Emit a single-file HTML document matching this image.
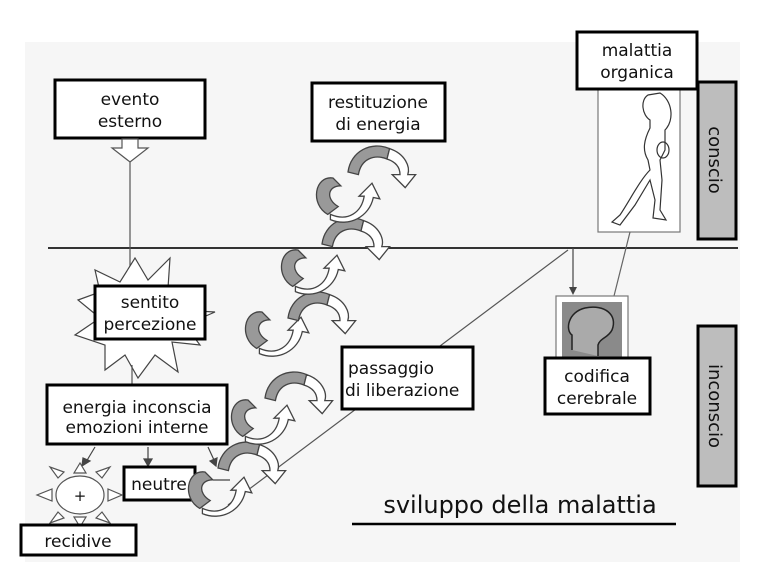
<!DOCTYPE html>
<html><head><meta charset="utf-8"><style>
html,body{margin:0;padding:0;background:#fff}
svg{display:block}
text{font-family:"DejaVu Sans","Liberation Sans",sans-serif;fill:#111}
.b{fill:#fff;stroke:#000;stroke-width:3}
</style></head><body>
<svg width="761" height="572" viewBox="0 0 761 572">
<rect x="25" y="42" width="715" height="520" fill="#f6f6f6"/>
<defs>
<g id="cw">
<path d="M0,0 C-14,-2 -18,20 -4,28 L4,22 C-6,16 -4,6 6,6 Z" fill="#999" stroke="#444" stroke-width="1"/>
<path d="M-2,28 C12,34 22,26 24,14 L20,14 L30,4 L36,16 L31,15 C28,30 12,38 -2,32 Z" fill="#fff" stroke="#444" stroke-width="1"/>
</g>
<g id="cw2">
<path d="M0,20 C2,4 18,-4 32,2 L30,10 C20,6 10,10 8,22 Z" fill="#999" stroke="#444" stroke-width="1"/>
<path d="M32,2 C44,6 48,16 46,22 L52,22 L44,32 L34,22 L40,22 C40,16 36,12 30,10 Z" fill="#fff" stroke="#444" stroke-width="1"/>
</g>
</defs>
<line x1="48" y1="248" x2="738" y2="248" stroke="#333" stroke-width="2"/>
<rect class="b" x="55" y="80" width="150" height="58"/>
<text x="130" y="105" font-size="17" text-anchor="middle">evento</text>
<text x="130" y="127" font-size="17" text-anchor="middle">esterno</text>
<path d="M122,139 L138,139 L138,148 L148,148 L130,162 L112,148 L122,148 Z" fill="#fff" stroke="#555" stroke-width="1.2"/>
<line x1="130" y1="162" x2="130" y2="290" stroke="#555" stroke-width="1.2"/>
<polygon points="135,258 148,280 170,258 168,288 195,290 178,310 215,312 185,325 200,345 172,342 178,372 155,355 138,378 125,355 105,370 105,345 75,335 100,318 78,300 100,292 95,270 120,282" fill="#fff" stroke="#444" stroke-width="1.2"/>
<rect class="b" x="95" y="286" width="110" height="53"/>
<text x="150" y="308" font-size="17" text-anchor="middle">sentito</text>
<text x="150" y="330" font-size="17" text-anchor="middle">percezione</text>
<line x1="132" y1="365" x2="132" y2="385" stroke="#555" stroke-width="1.2"/>
<rect class="b" x="47" y="385" width="180" height="59"/>
<text x="137" y="413" font-size="17" text-anchor="middle">energia inconscia</text>
<text x="137" y="433" font-size="17" text-anchor="middle">emozioni interne</text>
<g stroke="#444" stroke-width="1.2" fill="#444">
<line x1="95" y1="447" x2="86" y2="462"/><polygon points="82,466 83,458 90,461"/>
<line x1="148" y1="447" x2="148" y2="460"/><polygon points="148,466 144,459 152,459"/>
<line x1="208" y1="447" x2="214" y2="460"/><polygon points="216,466 210,461 217,458"/>
<line x1="213" y1="480" x2="230" y2="480"/>
</g>
<rect class="b" x="124" y="467" width="71" height="33"/>
<text x="159" y="490" font-size="17" text-anchor="middle">neutre</text>
<ellipse cx="80" cy="495" rx="24" ry="19" fill="#fff" stroke="#555" stroke-width="1.2"/>
<text x="80" y="501" font-size="15" text-anchor="middle">+</text>
<g fill="#fff" stroke="#555" stroke-width="1.2">
<polygon points="74,473 86,473 80,463"/><polygon points="74,517 86,517 80,527"/>
<polygon points="52,489 52,501 37,495"/><polygon points="108,489 108,501 122,495"/>
<polygon points="58,478 64,472 50,467"/><polygon points="96,472 102,478 110,467"/>
<polygon points="58,512 64,518 50,523"/><polygon points="96,518 102,512 110,523"/>
</g>
<rect class="b" x="21" y="525" width="115" height="30"/>
<text x="78" y="547" font-size="17" text-anchor="middle">recidive</text>
<line x1="228" y1="505" x2="568" y2="250" stroke="#555" stroke-width="1.2"/>
<line x1="573" y1="248" x2="573" y2="288" stroke="#444" stroke-width="1.2"/>
<polygon points="573,295 569,287 577,287" fill="#444"/>
<use href="#cw" transform="translate(205,472) scale(1.3)"/>
<use href="#cw2" transform="translate(218,442) scale(1.3)"/>
<use href="#cw" transform="translate(248,400) scale(1.3)"/>
<use href="#cw2" transform="translate(265,372) scale(1.3)"/>
<use href="#cw" transform="translate(262,312) scale(1.3)"/>
<use href="#cw2" transform="translate(288,292) scale(1.3)"/>
<use href="#cw" transform="translate(298,250) scale(1.3)"/>
<use href="#cw2" transform="translate(322,218) scale(1.3)"/>
<use href="#cw" transform="translate(333,178) scale(1.3)"/>
<use href="#cw2" transform="translate(348,146) scale(1.3)"/>
<rect class="b" x="312" y="83" width="133" height="58"/>
<text x="378" y="108" font-size="17" text-anchor="middle">restituzione</text>
<text x="378" y="130" font-size="17" text-anchor="middle">di energia</text>
<rect class="b" x="342" y="347" width="131" height="62"/>
<text x="348" y="374" font-size="17">passaggio</text>
<text x="345" y="396" font-size="17">di liberazione</text>
<rect x="598" y="82" width="82" height="150" fill="#fff" stroke="#777" stroke-width="1.2"/>
<g fill="none" stroke="#333" stroke-width="1.2">
<path d="M648,95 C640,100 642,115 650,120 L650,128 C644,140 642,150 648,160 L650,170 C640,180 630,200 620,215 L612,222 L620,225 L635,205 L650,180 L655,200 L653,218 L666,220 L660,210 L662,180 L660,160 L665,150 L665,130 C675,120 672,100 660,93 Z"/>
<ellipse cx="663" cy="150" rx="6" ry="8"/>
</g>
<line x1="630" y1="232" x2="614" y2="296" stroke="#666" stroke-width="1.2"/>
<rect class="b" x="577" y="32" width="120" height="57"/>
<text x="637" y="56" font-size="17" text-anchor="middle">malattia</text>
<text x="637" y="78" font-size="17" text-anchor="middle">organica</text>
<rect x="556" y="296" width="72" height="66" fill="#fff" stroke="#777" stroke-width="1.2"/>
<rect x="562" y="302" width="60" height="56" fill="#8a8a8a"/>
<path d="M572,350 L572,335 C565,330 568,312 585,308 C605,304 618,315 612,330 C608,338 600,338 598,345 L598,356" fill="#aaa" stroke="#222" stroke-width="1.5"/>
<rect class="b" x="545" y="358" width="105" height="56"/>
<text x="597" y="382" font-size="17" text-anchor="middle">codifica</text>
<text x="597" y="404" font-size="17" text-anchor="middle">cerebrale</text>
<rect x="698" y="82" width="38" height="157" fill="#bdbdbd" stroke="#000" stroke-width="3"/>
<text transform="translate(709,160) rotate(90)" font-size="18" text-anchor="middle">conscio</text>
<rect x="698" y="326" width="38" height="160" fill="#bdbdbd" stroke="#000" stroke-width="3"/>
<text transform="translate(709,406) rotate(90)" font-size="18" text-anchor="middle">inconscio</text>
<text x="520" y="513" font-size="24" text-anchor="middle">sviluppo della malattia</text>
<line x1="352" y1="524" x2="676" y2="524" stroke="#000" stroke-width="2.5"/>
</svg>
</body></html>
